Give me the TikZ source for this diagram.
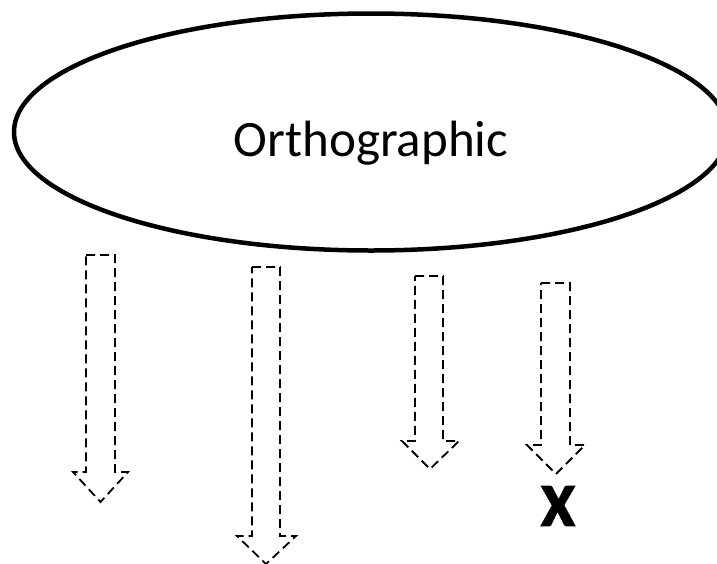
\documentclass[tikz,border=0pt]{standalone}
\usepackage{fontspec}
\setmainfont{Carlito}
\newfontfamily\heavyfont[FakeBold=3]{Carlito Bold}
\usetikzlibrary{shapes.geometric}
\begin{document}
\begin{tikzpicture}[x=1pt,y=-1pt,
  oval/.style={ellipse,draw=black,line width=4.5pt,inner sep=0pt,minimum width=714pt,minimum height=237pt,text height=48pt,text depth=0pt,font=\fontsize{51}{60}\selectfont},
  blockarrow/.style={draw=black,line width=1.8pt,dash pattern=on 9pt off 5pt},
  xlabel/.style={font=\heavyfont\fontsize{60}{70}\selectfont,inner sep=0pt}]
\useasboundingbox (0,0) rectangle (717,563);
\clip (0,0) rectangle (717,563);
\node[oval] (orth) at (371,132) {Orthographic};
\draw[blockarrow] (86,255) -- (115,255) -- (115,472) -- (128,472) -- (100.5,502) -- (73,472) -- (86,472) -- cycle;
\draw[blockarrow] (252,267) -- (280,267) -- (280,536) -- (296,536) -- (266,564) -- (237,536) -- (252,536) -- cycle;
\draw[blockarrow] (415,276) -- (443,276) -- (443,441) -- (459,441) -- (430,469) -- (402,441) -- (415,441) -- cycle;
\draw[blockarrow] (541,283) -- (570,283) -- (570,445) -- (585,445) -- (556,474) -- (527,445) -- (541,445) -- cycle;
\node[xlabel] (x) at (558,506) {X};
\end{tikzpicture}
\end{document}
